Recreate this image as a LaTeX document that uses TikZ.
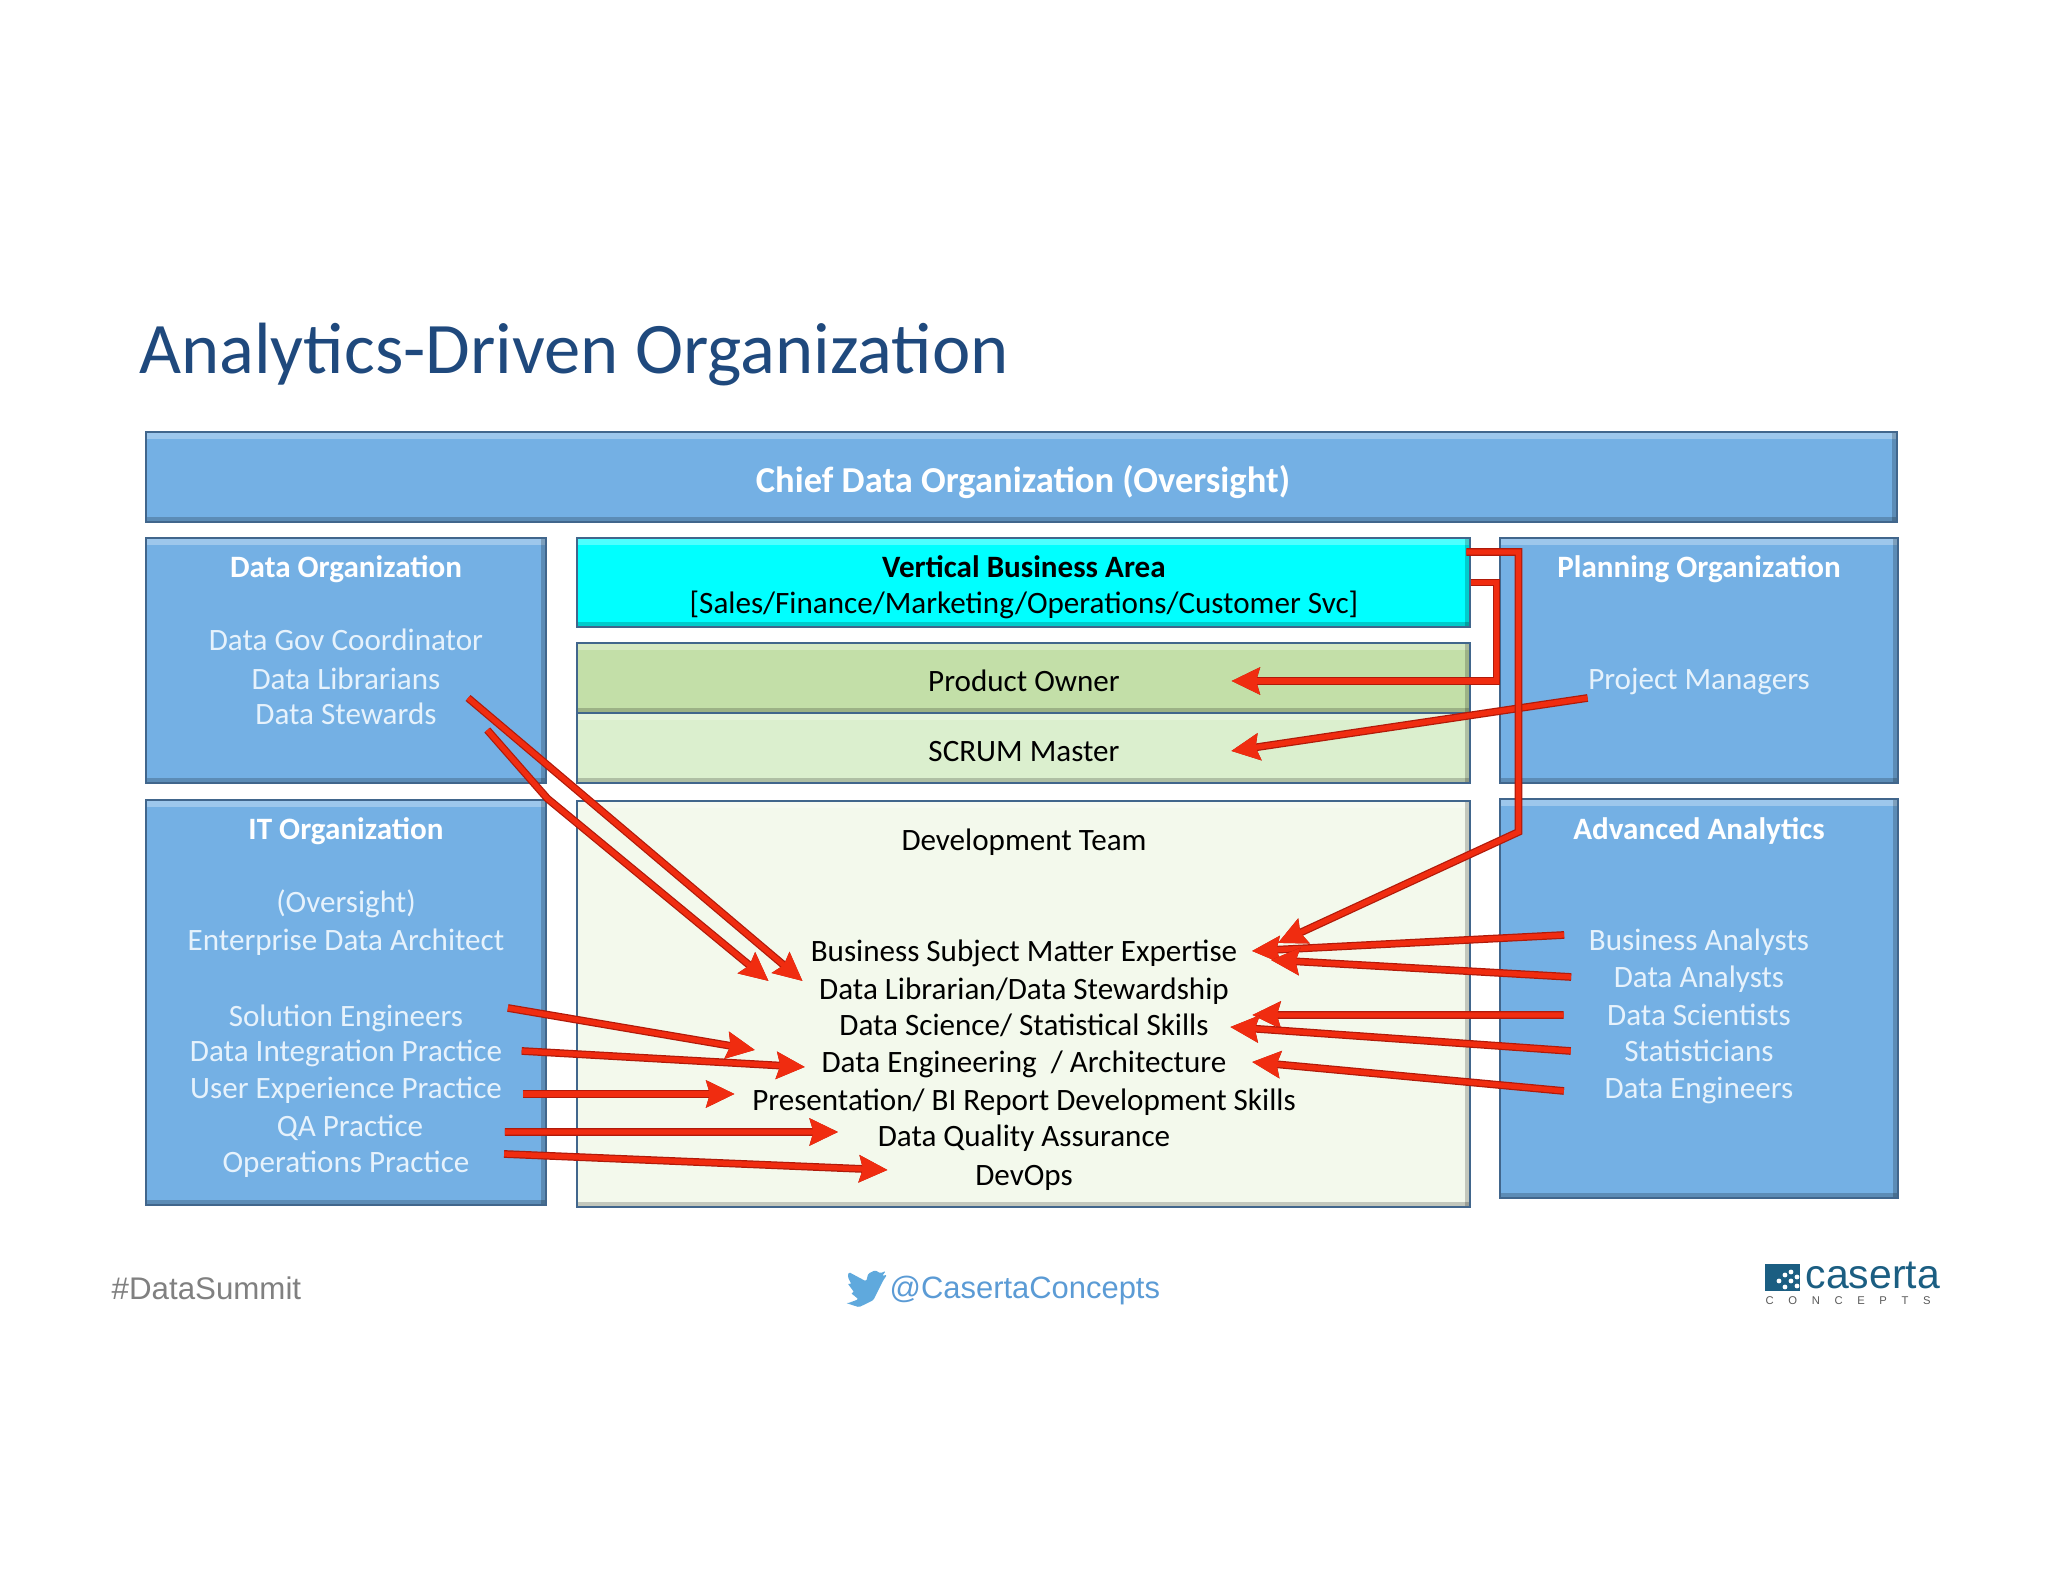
\documentclass[tikz,border=0pt]{standalone}
\usepackage{fontspec}
\setmainfont{Carlito}
\newfontfamily\footfont{Liberation Sans}
\newfontfamily\conceptsfont[LetterSpace=130]{Liberation Sans}
\usetikzlibrary{arrows.meta,positioning,calc}
\definecolor{titleblue}{HTML}{1F497D}
\definecolor{panelblue}{HTML}{74B0E4}
\definecolor{paneledge}{HTML}{41668C}
\definecolor{paletext}{HTML}{E6F2FC}
\definecolor{areacyan}{HTML}{00FFFF}
\definecolor{ownergreen}{HTML}{C3DFA8}
\definecolor{scrumgreen}{HTML}{DBEFCE}
\definecolor{devgreen}{HTML}{F3F9EC}
\definecolor{arrowred}{HTML}{F02C10}
\definecolor{arrowdark}{HTML}{B01A0A}
\definecolor{birdblue}{HTML}{5FA9DD}
\definecolor{handleblue}{HTML}{5B9BD5}
\definecolor{logoteal}{HTML}{1B5E82}

\begin{document}
\begin{tikzpicture}[>=Stealth,font=\fontsize{8.85}{10}\selectfont]
\tikzstyle{panel}=[draw=paneledge,line width=.8pt,inner sep=0pt,path picture={\fill[white,opacity=.3] (path picture bounding box.north west) rectangle ([yshift=-0.07cm]path picture bounding box.north east);\fill[black,opacity=.2] (path picture bounding box.south west) rectangle ([yshift=0.05cm]path picture bounding box.south east);\fill[black,opacity=.2] (path picture bounding box.south east) rectangle ([xshift=-0.05cm]path picture bounding box.north east);}]
\tikzstyle{lbl}=[inner sep=0pt,text height=1.7ex,text depth=.4ex]
\tikzstyle{headlbl}=[lbl,white,font=\fontsize{8.85}{10}\selectfont\bfseries]
\tikzstyle{palelbl}=[lbl,paletext]
\tikzstyle{redarrow}=[draw=arrowred,line width=1.5pt,-{Stealth[length=8pt,width=7.5pt,inset=1pt]},preaction={draw=arrowdark,line width=2.2pt}]
\useasboundingbox (0,0) rectangle (20.48,15.82);
\node[anchor=west,inner sep=0pt,titleblue,font=\fontsize{20.66}{24}\selectfont] (title) at (1.385,12.27) {Analytics-Driven Organization};
\node[panel,fill=panelblue,minimum width=17.51cm,minimum height=.9cm] (cdo) at (10.215,11.05) {};
\node[panel,fill=panelblue,minimum width=4cm,minimum height=2.45cm] (dataorg) at (3.46,9.215) {};
\node[panel,fill=panelblue,minimum width=4cm,minimum height=4.05cm] (itorg) at (3.46,5.795) {};
\node[panel,fill=areacyan,minimum width=8.93cm,minimum height=.89cm] (vba) at (10.235,9.995) {};
\node[panel,fill=ownergreen,minimum width=8.93cm,minimum height=.7cm] (po) at (10.235,9.04) {};
\node[panel,fill=scrumgreen,minimum width=8.93cm,minimum height=.7cm] (scrum) at (10.235,8.34) {};
\node[panel,fill=devgreen,minimum width=8.93cm,minimum height=4.06cm] (dev) at (10.235,5.78) {};
\node[panel,fill=panelblue,minimum width=3.98cm,minimum height=2.45cm] (planorg) at (16.99,9.215) {};
\node[panel,fill=panelblue,minimum width=3.98cm,minimum height=3.99cm] (advorg) at (16.99,5.835) {};
\node[headlbl,font=\fontsize{10.4}{12}\selectfont\bfseries] (cdohead) at (10.23,11.0) {Chief Data Organization (Oversight)};
\node[headlbl] (datahead) at (3.46,10.15) {Data Organization};
\node[headlbl] (ithead) at (3.46,7.53) {IT Organization};
\node[headlbl] (planhead) at (16.99,10.15) {Planning Organization};
\node[headlbl] (advhead) at (16.99,7.53) {Advanced Analytics};
\node[lbl,font=\fontsize{8.85}{10}\selectfont\bfseries] (vbahead) at (10.24,10.15) {Vertical Business Area};
\node[lbl] (vbasub) at (10.24,9.79) {[Sales/Finance/Marketing/Operations/Customer Svc]};
\foreach \n/\x/\y/\t in {dgc/3.46/9.42/{Data Gov Coordinator},dlib/3.46/9.03/{Data Librarians},dstew/3.46/8.68/{Data Stewards},over/3.46/6.80/{(Oversight)},eda/3.46/6.42/{Enterprise Data Architect},sol/3.46/5.66/{Solution Engineers},dip/3.46/5.31/{Data Integration Practice},uxp/3.46/4.94/{User Experience Practice},qap/3.50/4.56/{QA Practice},ops/3.46/4.20/{Operations Practice},pm/16.99/9.03/{Project Managers},ba/16.99/6.42/{Business Analysts},da/16.99/6.05/{Data Analysts},dsc/16.99/5.67/{Data Scientists},stat/16.99/5.31/{Statisticians},de/16.99/4.94/{Data Engineers}} \node[palelbl] (\n) at (\x,\y) {\t};
\foreach \n/\y/\t in {potxt/9.01/{Product Owner},scrumtxt/8.31/{SCRUM Master},devt/7.42/{Development Team},bsme/6.31/{Business Subject Matter Expertise},dlds/5.93/{Data Librarian/Data Stewardship},dsci/5.57/{Data Science/ Statistical Skills},deng/5.20/{Data Engineering\ \ / Architecture},pres/4.82/{Presentation/ BI Report Development Skills},dqa/4.46/{Data Quality Assurance},devops/4.07/{DevOps}} \node[lbl] (\n) at (10.24,\y) {\t};
\foreach \a/\p/\b/\q in {dlib.east/{.27,-.19}/dlds.west/{-.16,.08},sol.east/{.44,.08}/deng.west/{-.66,.12},dip.east/{.19,0}/deng.west/{-.16,-.05},uxp.east/{.20,-.06}/pres.west/{-.17,.06},qap.east/{.81,-.06}/dqa.west/{-.39,.04},ops.east/{.34,.08}/devops.west/{-.87,.05},ba.west/{-.24,.05}/bsme.east/{.14,0},da.west/{-.42,0}/bsme.east/{.33,-.09},dsc.west/{-.43,0}/dsci.east/{.43,.10},stat.west/{-.53,0}/dsci.east/{.21,-.02},de.west/{-.40,-.03}/deng.east/{.25,0},pm.west/{0,-.19}/scrumtxt.east/{1.11,0}} \draw[redarrow] ([shift={(\p)}]\a) -- ([shift={(\q)}]\b);
\draw[redarrow] ([shift={(.50,-.16)}]dstew.east) -- (itorg.north east) -- ([shift={(-.50,.08)}]dlds.west);
\draw[redarrow] (vba.east) -- ++(.25,0) |- ([xshift=1.11cm]potxt.east);
\draw[redarrow] ([shift={(-.05,.305)}]vba.east) -- ++(.52,0) -- ++(0,-2.80) -- ([shift={(.40,.08)}]bsme.east);
\node[anchor=west,inner sep=0pt,gray,font=\footfont\fontsize{8.9}{10}\selectfont] (hashtag) at (1.11,2.94) {\#DataSummit};
\node[anchor=west,inner sep=0pt,handleblue,font=\footfont\fontsize{8.8}{10}\selectfont] (handle) at (8.89,2.91) {@CasertaConcepts};
\begin{scope}[shift={(8.46,3.16)},x=.0171cm,y=-.019cm]
\fill[birdblue,rounded corners=0.4pt] (24,4.6) -- (21.1,5.3) -- (23.3,2.6) -- (20.2,3.8) -- (17,2.3) -- (13,4) -- (11.8,8.1) -- (1.64,3.2) -- (1,5.6) -- (3.2,9.7) -- (.9,9.1) -- (4.9,14) -- (2.7,14.1) -- (7.3,17.5) -- (1.2,19.6) -- (0,19.5) -- (7.6,21.7) -- (16,18) -- (21.5,8) -- cycle;
\end{scope}
\fill[logoteal] (17.65,2.91) rectangle (18.00,3.18);
\foreach \cx/\cy in {17.79/3.01,17.85/3.07,17.91/3.01,17.85/2.95,17.91/3.10,17.97/3.05,17.97/2.96} \fill[white] (\cx,\cy) circle (.024);
\node[anchor=base west,inner sep=0pt,logoteal,font=\footfont\fontsize{11.65}{12}\selectfont] (caserta) at (18.05,2.93) {caserta};
\node[anchor=base west,inner sep=0pt,gray!70!black,font=\conceptsfont\fontsize{3.2}{4}\selectfont] (concepts) at (17.65,2.77) {CONCEPTS};
\end{tikzpicture}
\end{document}
